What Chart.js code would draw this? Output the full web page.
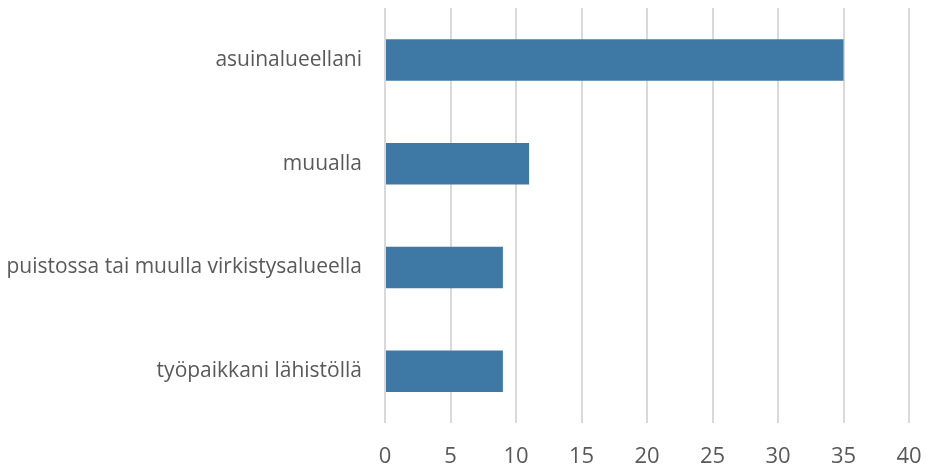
<!DOCTYPE html>
<html>
<head>
<meta charset="utf-8">
<script src="https://cdn.jsdelivr.net/npm/chart.js@4/dist/chart.umd.min.js"></script>
<style>
html,body{margin:0;padding:0;background:#fff;}
#wrap{width:926px;height:468px;position:relative;}
</style>
</head>
<body>
<div id="wrap"><canvas id="c" width="926" height="468"></canvas></div>
<script>
const categories = ["asuinalueellani", "muualla", "puistossa tai muulla virkistysalueella", "työpaikkani lähistöllä"];
const values = [35, 11, 9, 9];
const xMin = 0, xMax = 40, xStep = 5;

new Chart(document.getElementById('c'), {
  type: 'bar',
  data: {
    labels: categories,
    datasets: [{
      data: values,
      backgroundColor: '#3E79A5',
      borderWidth: 0,
      categoryPercentage: 1.0,
      barPercentage: 0.4
    }]
  },
  options: {
    indexAxis: 'y',
    responsive: false,
    animation: false,
    devicePixelRatio: 1,
    layout: { padding: { top: 8, right: 17, left: 0, bottom: 0 } },
    plugins: { legend: { display: false }, tooltip: { enabled: false } },
    scales: {
      x: {
        min: xMin, max: xMax,
        ticks: { stepSize: xStep, color: '#595959', font: { family: 'Open Sans', size: 22 }, padding: 21 },
        grid: { color: '#d9d9d9', lineWidth: 2, drawTicks: false },
        border: { display: false },
        afterFit: s => { s.height = 45; s.paddingLeft = 0; s.paddingRight = 0; }
      },
      y: {
        ticks: { color: '#595959', font: { family: 'Open Sans', size: 21 }, padding: 23 },
        grid: { display: false, drawTicks: false },
        border: { display: false },
        afterFit: s => { s.width = 385; s.paddingTop = 0; s.paddingBottom = 0; }
      }
    }
  }
});
</script>
</body>
</html>
